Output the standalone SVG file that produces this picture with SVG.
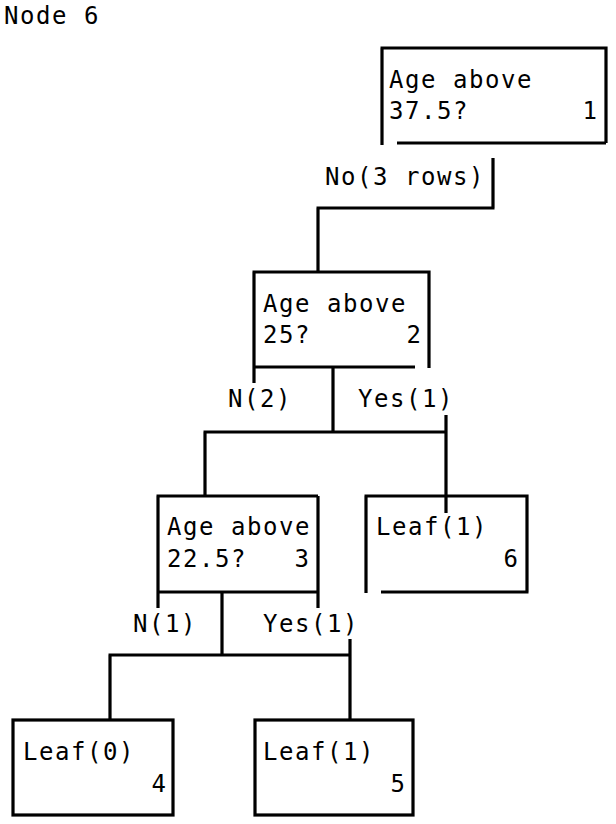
<svg xmlns="http://www.w3.org/2000/svg" width="616" height="824" viewBox="0 0 616 824">
<style>
  .ln { stroke: #000; stroke-width: 3.2; fill: none; stroke-linecap: butt; }
  .t { font-family: "DejaVu Sans Mono", "Liberation Mono", monospace; font-size: 24px; letter-spacing: 1.55px; fill: #000; }
  .r { text-anchor: end; letter-spacing: 0; }
</style>
<rect width="616" height="824" fill="#fff"/>
<text class="t" x="4" y="24">Node 6</text>

<g id="connectors">
  <path class="ln" d="M493,158 V208 M494.5,208 H316.5 M318,208 V272"/>
  <text class="t" x="325" y="185">No(3 rows)</text>
  <path class="ln" d="M333,367 V432 M203.5,432 H447.5 M446,415 V513 M205,432 V496"/>
  <text class="t" x="228" y="407">N(2)</text>
  <text class="t" x="358" y="407">Yes(1)</text>
  <path class="ln" d="M222,592 V655 M108.5,655 H351.5 M350,639 V720 M110,655 V720"/>
  <text class="t" x="133" y="632">N(1)</text>
  <text class="t" x="263" y="632">Yes(1)</text>
</g>

<g id="node1">
  <path class="ln" d="M380.5,48 H606 V143 M606,143 H397 M382,48 V145"/>
  <text class="t" x="389" y="88">Age above</text>
  <text class="t" x="389" y="119">37.5?</text>
  <text class="t r" x="597" y="119">1</text>
</g>

<g id="node2">
  <path class="ln" d="M252.5,272 H429 V368 M254,272 V383 M252.5,367 H415"/>
  <text class="t" x="263" y="312">Age above</text>
  <text class="t" x="263" y="343">25?</text>
  <text class="t r" x="421" y="343">2</text>
</g>

<g id="node3">
  <path class="ln" d="M158,496 V608 M156.5,496 H318 M318,496 V608 M156.5,592 H318"/>
  <text class="t" x="167" y="535">Age above</text>
  <text class="t" x="167" y="567">22.5?</text>
  <text class="t r" x="309" y="567">3</text>
</g>

<g id="node6">
  <path class="ln" d="M366,593 V496 M364.5,496 H527 V592 M528.5,592 H381"/>
  <text class="t" x="376" y="535">Leaf(1)</text>
  <text class="t r" x="518" y="567">6</text>
</g>

<g id="node4">
  <rect class="ln" x="13" y="720" width="160" height="95"/>
  <text class="t" x="23" y="760">Leaf(0)</text>
  <text class="t r" x="166" y="792">4</text>
</g>

<g id="node5">
  <rect class="ln" x="255" y="720" width="158" height="95"/>
  <text class="t" x="263" y="760">Leaf(1)</text>
  <text class="t r" x="405" y="792">5</text>
</g>
</svg>
